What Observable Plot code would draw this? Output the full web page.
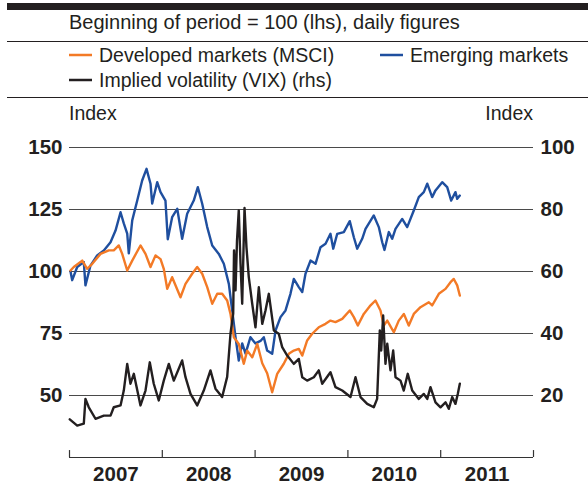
<!DOCTYPE html>
<html><head><meta charset="utf-8">
<script src="https://cdn.jsdelivr.net/npm/d3@7"></script>
<script src="https://cdn.jsdelivr.net/npm/@observablehq/plot@0.6"></script>
<style>
body{margin:0;background:#fff;}
#chart{width:588px;height:486px;}
</style></head><body><div id="chart"></div>
<script>
// [decimal year, index (beginning of period = 100)]
const emerging = [
[2007.011,100],[2007.029,96.5],[2007.083,101.8],[2007.154,103.8],[2007.172,94.4],[2007.226,102.4],
[2007.298,106.5],[2007.370,108.5],[2007.442,111.8],[2007.496,116.5],[2007.550,123.9],[2007.585,119.4],
[2007.622,115.3],[2007.639,107.3],[2007.676,120.6],[2007.730,128.6],[2007.783,136.7],[2007.830,141.4],
[2007.873,135.4],[2007.891,127.4],[2007.945,136],[2007.981,132],[2008.034,128.6],[2008.059,113],
[2008.106,121.9],[2008.161,125.3],[2008.214,113.2],[2008.268,123.3],[2008.339,128.6],[2008.383,134],
[2008.430,127.3],[2008.484,117.9],[2008.538,110.5],[2008.609,107.1],[2008.663,103.1],[2008.717,95],
[2008.753,84.3],[2008.789,73.5],[2008.824,64.1],[2008.861,71],[2008.897,66.9],[2008.950,73.5],
[2009.004,71],[2009.058,72],[2009.094,73.5],[2009.130,68.1],[2009.184,66.8],[2009.220,76.2],
[2009.274,81.6],[2009.328,84.3],[2009.381,91],[2009.417,97],[2009.471,93.7],[2009.508,91.7],
[2009.543,99.1],[2009.597,104.4],[2009.651,103.1],[2009.705,109.8],[2009.759,111.2],[2009.812,115.2],
[2009.842,109.2],[2009.885,115.2],[2009.956,115.9],[2010.020,120.3],[2010.064,113.8],[2010.100,109.2],
[2010.154,113.2],[2010.190,117.2],[2010.279,122.6],[2010.333,117.9],[2010.370,111.8],[2010.394,108.7],
[2010.441,115.9],[2010.477,113.2],[2010.513,117.2],[2010.585,121.2],[2010.639,117.9],[2010.710,124.6],
[2010.764,130],[2010.818,132],[2010.855,135.4],[2010.908,130],[2010.944,132.7],[2011.016,136],
[2011.070,134],[2011.113,128.6],[2011.159,132],[2011.178,129.3],[2011.206,130.6]
];
const developed = [
[2007.011,100.4],[2007.046,101.8],[2007.137,104.4],[2007.191,101.1],[2007.245,103.1],[2007.334,107.1],
[2007.423,108.5],[2007.477,108.5],[2007.531,110.5],[2007.568,107.1],[2007.622,100.4],[2007.676,104.4],
[2007.765,110.5],[2007.819,107.1],[2007.873,101.8],[2007.927,106.5],[2007.981,105],[2008.016,101.1],
[2008.053,93],[2008.106,97.7],[2008.196,89.6],[2008.250,95],[2008.322,99.1],[2008.376,101.8],
[2008.430,99.1],[2008.484,93.7],[2008.538,87],[2008.592,91],[2008.645,91],[2008.699,88.3],
[2008.735,82.9],[2008.771,73.5],[2008.824,70.8],[2008.878,62.8],[2008.915,68.1],[2008.969,65.4],
[2009.023,70.8],[2009.077,63],[2009.130,59],[2009.184,51.3],[2009.238,58.7],[2009.309,62.8],
[2009.363,66.8],[2009.417,68.1],[2009.471,68.8],[2009.508,66.1],[2009.561,72.2],[2009.615,74.9],
[2009.686,77.5],[2009.759,78.9],[2009.812,80.2],[2009.866,79.6],[2009.939,80.9],[2010.020,84.3],
[2010.064,81.6],[2010.107,78.2],[2010.171,82.9],[2010.236,86],[2010.297,88.3],[2010.351,84.3],
[2010.387,78.2],[2010.424,80.2],[2010.495,75.5],[2010.548,80.2],[2010.603,82.9],[2010.656,78.2],
[2010.710,82.9],[2010.782,85.6],[2010.872,87.6],[2010.908,86.3],[2010.980,91],[2011.052,93],
[2011.106,95.7],[2011.141,97],[2011.178,94.4],[2011.206,90.3]
];
// [decimal year, VIX level] (right-hand scale)
const vix = [
[2007.003,12.3],[2007.083,10.3],[2007.154,10.9],[2007.172,18.9],[2007.208,16.2],[2007.280,12.5],
[2007.370,13.5],[2007.442,13.5],[2007.477,16.2],[2007.550,16.8],[2007.585,21.6],[2007.622,30.2],
[2007.657,23.8],[2007.693,27],[2007.765,16.8],[2007.819,21.6],[2007.865,30.7],[2007.908,23.8],
[2007.962,18.4],[2008.016,24.8],[2008.070,30.2],[2008.124,24.8],[2008.214,31.3],[2008.250,25.9],
[2008.304,20.5],[2008.376,16.8],[2008.447,21.6],[2008.519,28.1],[2008.573,22.2],[2008.645,19.5],
[2008.699,26],[2008.735,40],[2008.764,46.4],[2008.773,66.8],[2008.789,53.9],[2008.805,70],
[2008.824,79.7],[2008.843,62.5],[2008.861,49.6],[2008.886,80.5],[2008.907,67.8],[2008.932,58.2],
[2008.969,49.6],[2009.004,42],[2009.040,54.9],[2009.077,43.1],[2009.112,47.4],[2009.148,52.8],
[2009.202,41],[2009.255,39.9],[2009.292,35.6],[2009.346,32.9],[2009.417,30.2],[2009.471,31.8],
[2009.508,25.9],[2009.561,24.8],[2009.633,25.9],[2009.686,28.1],[2009.723,23.8],[2009.812,27.5],
[2009.866,22.7],[2009.939,21.6],[2010.028,19.5],[2010.082,25.9],[2010.136,19.5],[2010.208,17.3],
[2010.279,16.2],[2010.315,18.9],[2010.344,41],[2010.359,34.5],[2010.380,45.8],[2010.405,30.2],
[2010.424,36.7],[2010.459,28.1],[2010.488,34.5],[2010.513,25.9],[2010.567,24.8],[2010.602,21.6],
[2010.645,27],[2010.693,21.6],[2010.764,18.9],[2010.818,20.5],[2010.855,18.9],[2010.890,22.7],
[2010.944,17.8],[2010.998,16.2],[2011.052,17.8],[2011.087,15.7],[2011.124,19.5],[2011.159,17.3],
[2011.184,20.5],[2011.206,23.8]
];
const leftTicks = [50, 75, 100, 125, 150];
const rightTicks = [20, 40, 60, 80, 100];
const yearLabels = [2007, 2008, 2009, 2010, 2011];
const yearEdges = [2007, 2008, 2009, 2010, 2011, 2012];
const legendNames = ["Developed markets (MSCI)", "Emerging markets", "Implied volatility (VIX) (rhs)"];
const legendColors = ["#f37a26", "#1f4f9f", "#231f20"];
const headerText = "Beginning of period = 100 (lhs), daily figures";

const FONT = "'Liberation Sans', Arial, sans-serif";
const INK = "#231f20";
const ORANGE = legendColors[0], BLUE = legendColors[1], BLACK = legendColors[2];
const vixToLeft = v => 25 + 1.25 * v; // rhs 0..100 maps onto lhs 25..150

const chart = Plot.plot({
  width: 588, height: 486,
  marginLeft: 69, marginRight: 55, marginTop: 147, marginBottom: 29,
  style: {fontFamily: FONT, background: "white", color: INK, overflow: "visible"},
  x: {type: "linear", domain: [2007, 2012], axis: null},
  y: {domain: [25, 150]},
  marks: [
    Plot.ruleY(leftTicks, {stroke: "#4a4a4a", strokeWidth: 1}),
    Plot.ruleY([25], {stroke: "#333", strokeWidth: 1.2}),
    Plot.ruleX(yearEdges, {y1: 25, y2: 27.8, stroke: "#333", strokeWidth: 1.2}),
    Plot.axisY(leftTicks, {anchor: "left", tickSize: 0, tickPadding: 7, fontSize: 20.5, fontWeight: "bold", label: null}),
    Plot.axisY(leftTicks, {anchor: "right", tickSize: 0, tickPadding: 7, fontSize: 20.5, fontWeight: "bold", label: null,
      tickFormat: d => String(rightTicks[leftTicks.indexOf(d)])}),
    Plot.text(yearLabels, {x: d => d + 0.5, y: 25, dy: 17, text: d => String(d), fontSize: 20.5, fontWeight: "bold", fill: INK}),
    Plot.line(emerging, {x: d => d[0], y: d => d[1], stroke: BLUE, strokeWidth: 2.4}),
    Plot.line(developed, {x: d => d[0], y: d => d[1], stroke: ORANGE, strokeWidth: 2.4}),
    Plot.line(vix, {x: d => d[0], y: d => vixToLeft(d[1]), stroke: BLACK, strokeWidth: 2.4})
  ]
});
document.getElementById("chart").appendChild(chart);

const svg = d3.select(chart);
const g = svg.append("g").attr("font-family", FONT).attr("fill", INK).attr("text-anchor", "start");
g.append("rect").attr("x", 7).attr("y", 3).attr("width", 581).attr("height", 7).attr("fill", INK);
g.append("text").attr("x", 69).attr("y", 29).attr("font-size", 20).text(headerText);
g.append("line").attr("x1", 7).attr("x2", 588).attr("y1", 41.5).attr("y2", 41.5).attr("stroke", INK).attr("stroke-width", 1);
const legendPos = [[69, 55], [380, 55], [69, 80]];
legendNames.forEach((name, i) => {
  const [lx, ly] = legendPos[i];
  g.append("line").attr("x1", lx).attr("x2", lx + 23).attr("y1", ly).attr("y2", ly)
    .attr("stroke", legendColors[i]).attr("stroke-width", 2.5);
  g.append("text").attr("x", lx + 30).attr("y", ly + 7).attr("font-size", 19.5).text(name);
});
g.append("line").attr("x1", 7).attr("x2", 588).attr("y1", 97.5).attr("y2", 97.5).attr("stroke", INK).attr("stroke-width", 1);
g.append("text").attr("x", 69).attr("y", 120).attr("font-size", 19.5).text("Index");
g.append("text").attr("x", 533).attr("y", 120).attr("font-size", 19.5).attr("text-anchor", "end").text("Index");
</script></body></html>
